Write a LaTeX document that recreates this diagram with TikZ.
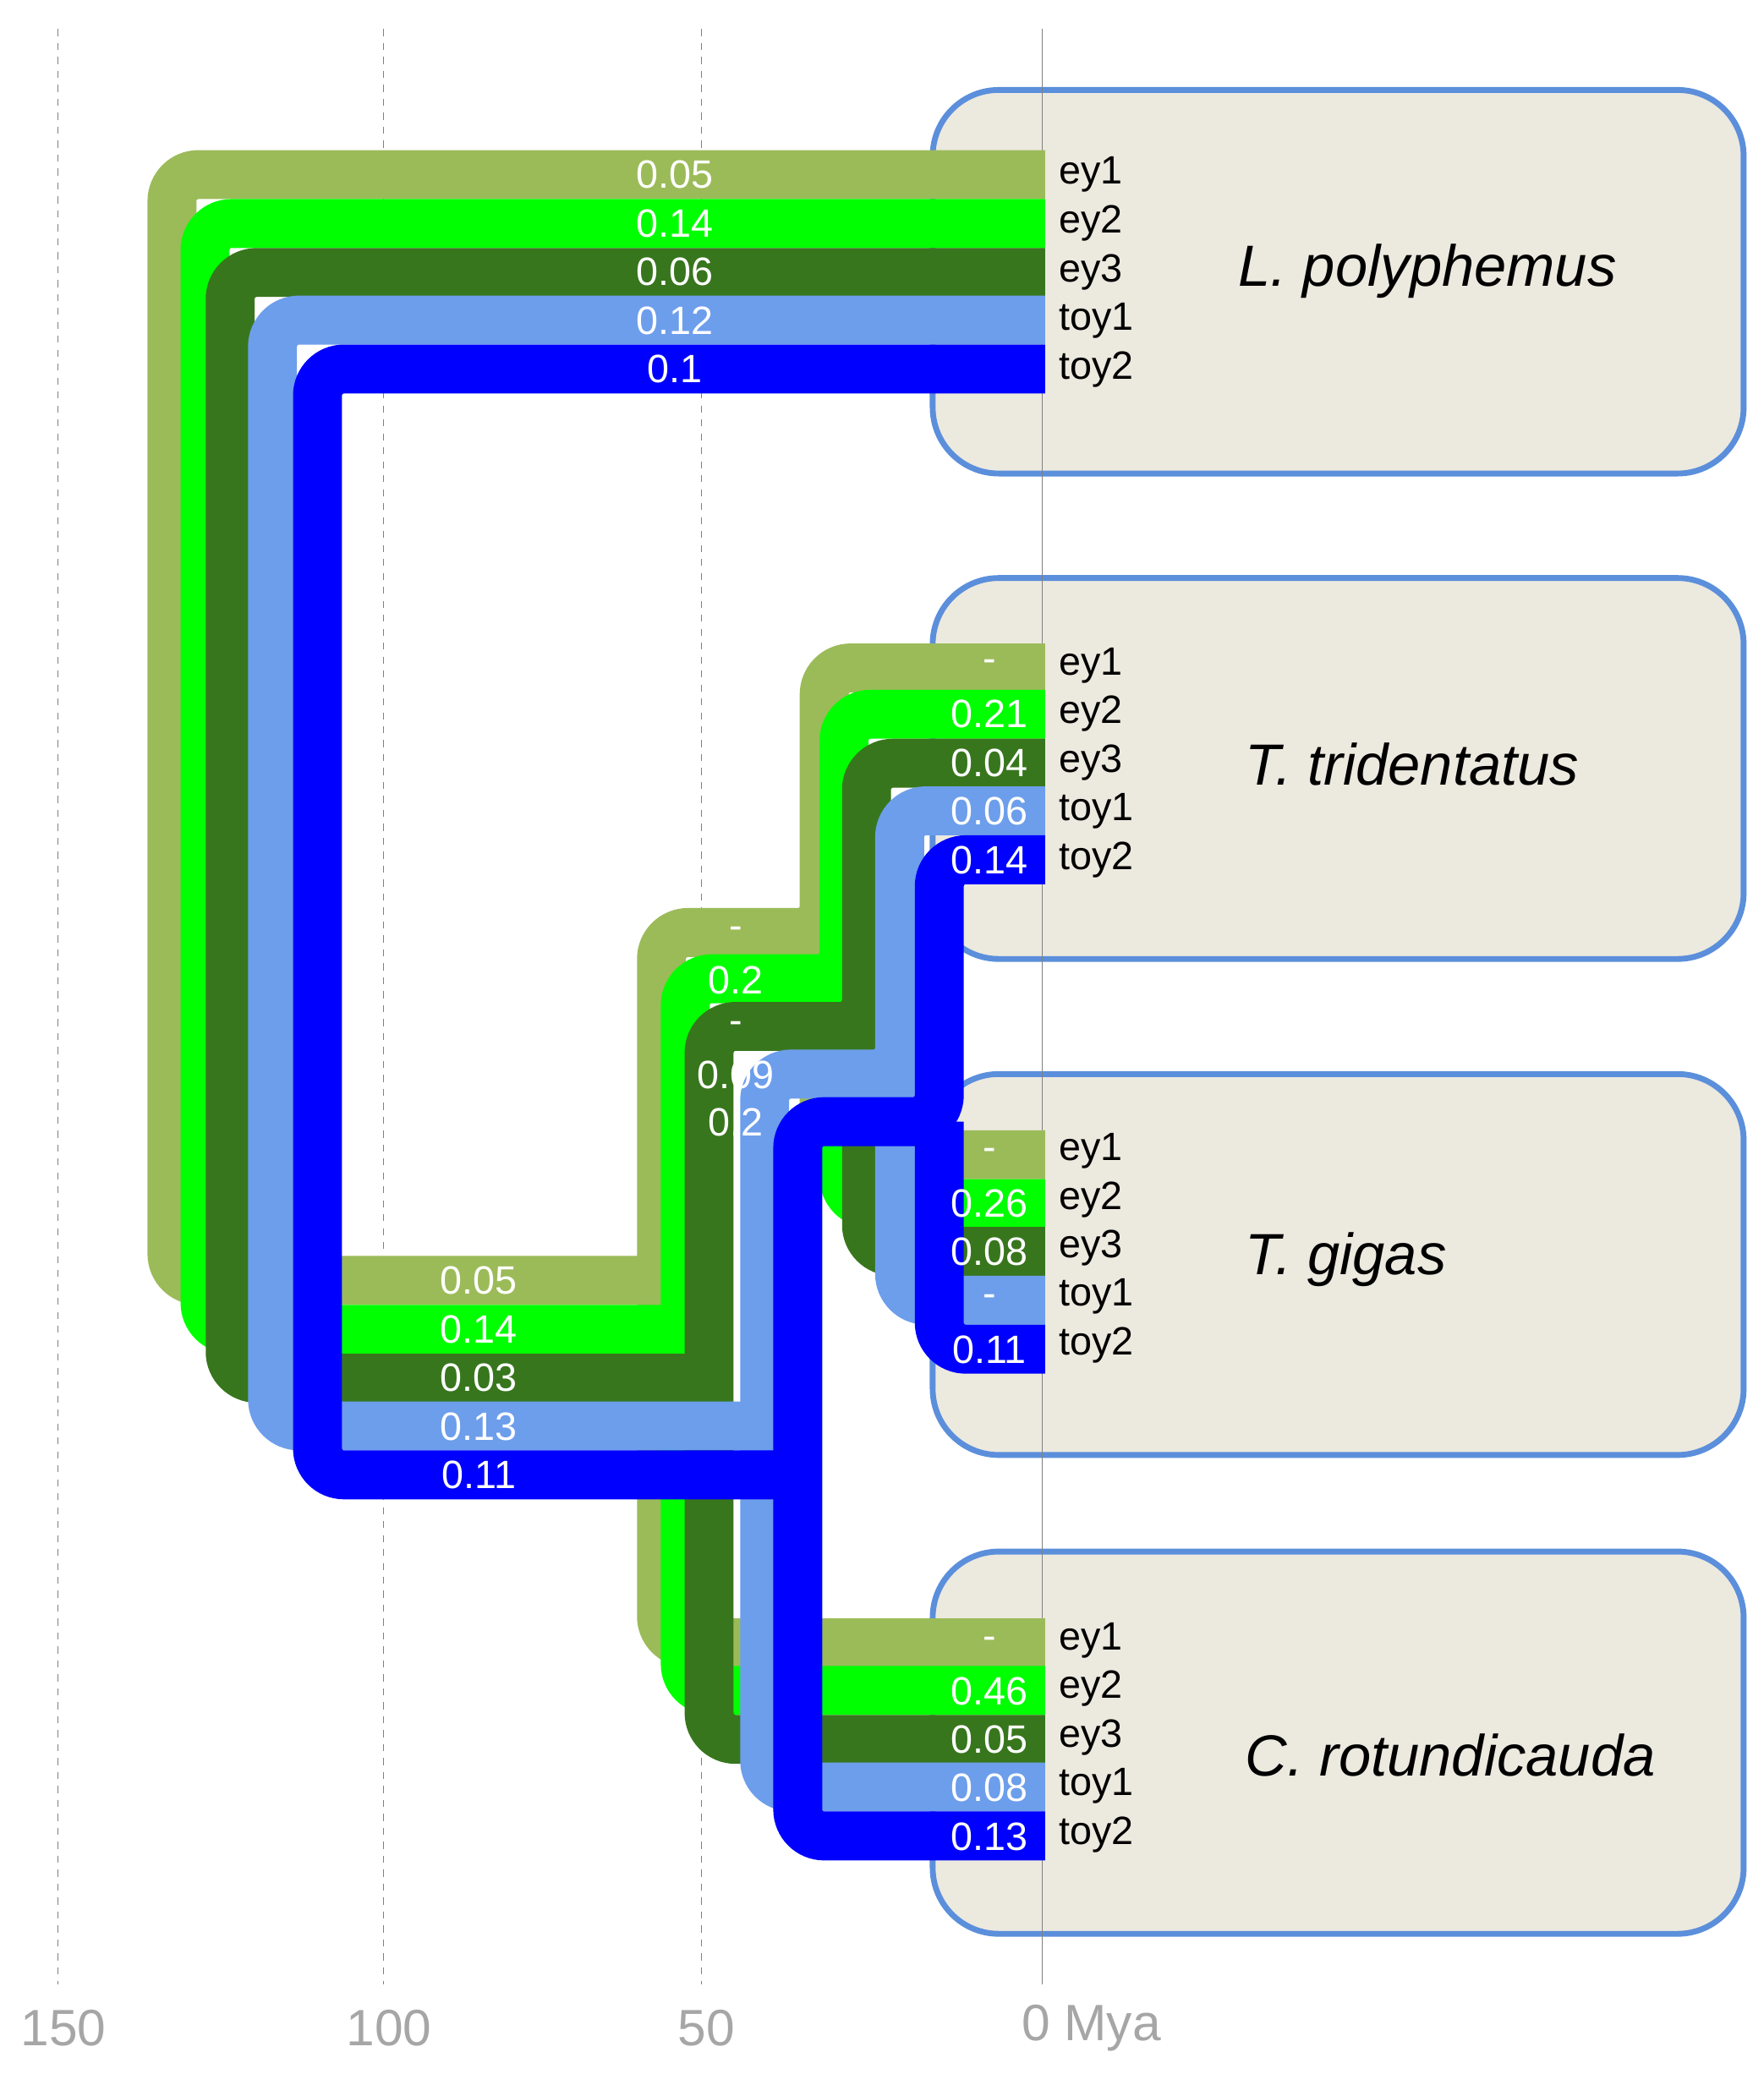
\documentclass[tikz,border=0pt]{standalone}
\usepackage{fontspec}
\setmainfont{Liberation Sans}
\usetikzlibrary{positioning}
\definecolor{cEyA}{HTML}{9BBB59}
\definecolor{cEyB}{HTML}{00FF00}
\definecolor{cEyC}{HTML}{38761D}
\definecolor{cToyA}{HTML}{6D9EEB}
\definecolor{cToyB}{HTML}{0000FF}
\definecolor{boxfill}{HTML}{ECE9DF}
\definecolor{boxline}{HTML}{5B8FDB}
\tikzset{
  species/.style={draw=boxline, line width=2.5pt, fill=boxfill, rounded corners=1cm},
  branch/.style={line width=0.74cm, rounded corners=0.4cm, line cap=butt},
  val/.style={text=white, font=\fontsize{17}{20}\selectfont, inner sep=0pt},
  gene/.style={anchor=west, font=\fontsize{17}{20}\selectfont, inner sep=0pt},
  sp/.style={anchor=west, font=\fontsize{25}{30}\selectfont\itshape},
  tick/.style={text=gray!70, font=\fontsize{22}{26}\selectfont}
}
\begin{document}
\begin{tikzpicture}[x=0.02cm, y=-0.02cm]
    \useasboundingbox (0,0) rectangle (1333,1568);
    % species boxes
    \draw[species] (705,68) rectangle (1318,358);
    \draw[species] (705,437) rectangle (1318,725);
    \draw[species] (705,812) rectangle (1318,1100);
    \draw[species] (705,1173) rectangle (1318,1462);
    \node[sp] (lpo) at (930,205) {L. polyphemus};
    \node[sp] (ttr) at (935,578) {T. tridentatus};
    \node[sp] (tgi) at (935,952) {T. gigas};
    \node[sp] (cro) at (935,1327) {C. rotundicauda};
    % time axis
    \foreach \x/\t in {44/150, 290/100, 530/50} {
        \draw[gray, dashed, thin] (\x,22) -- (\x,1500);
        \node[tick] (t\t) at (\x+4,1533) {\t};
    }
    \draw[gray, thin] (788,22) -- (788,1500);
    \node[tick, anchor=west] (t0) at (766,1533) {0 Mya};
    % gene trees
    \foreach \c/\yL/\xr/\yR/\xA/\yAt/\yC/\xB/\yT/\yG/\k in {
        cEyA/132/130/968/500/705/1242/623/505/873/0,
        cEyB/169/155/1005/518/740/1278/638/540/910/1,
        cEyC/206/174/1042/536/776/1315/655/577/946/2,
        cToyA/242/206/1078/578/812/1351/680/613/983/3,
        cToyB/279/240/1115/603/848/1388/710/650/1020/4} {
        \draw[branch, draw=\c] (790,\yL) -| (\xr,\yR) -- (\xA,\yR);
        \draw[branch, draw=\c] (790,\yT) -| (\xB,\yAt) -| (\xA,\yC) -- (790,\yC);
        \draw[branch, draw=\c] (\xB,\yAt) |- (790,\yG);
    }
    % branch values
    \foreach \v [count=\i from 0] in {0.05,0.14,0.06,0.12,0.1}
        \node[val] (vl\i) at (510,132+36.8*\i) {\v};
    \foreach \v [count=\i from 0] in {0.05,0.14,0.03,0.13,0.11}
        \node[val] (vr\i) at (362,968+36.8*\i) {\v};
    \foreach \v [count=\i from 0] in {-,0.2,-,0.09,0.2}
        \node[val] (va\i) at (556,705+35.8*\i) {\v};
    \foreach \v [count=\i from 0] in {-,0.21,0.04,0.06,0.14}
        \node[val] (vt\i) at (748,503+36.8*\i) {\v};
    \foreach \v [count=\i from 0] in {-,0.26,0.08,-,0.11}
        \node[val] (vg\i) at (748,873+36.8*\i) {\v};
    \foreach \v [count=\i from 0] in {-,0.46,0.05,0.08,0.13}
        \node[val] (vc\i) at (748,1242+36.6*\i) {\v};
    % gene names
    \foreach \y/\s in {132/lpo, 503/ttr, 870/tgi, 1240/cro}
        \foreach \g [count=\i from 0] in {ey1,ey2,ey3,toy1,toy2}
            \node[gene] (\s\g) at (800,\y+36.8*\i) {\g};
\end{tikzpicture}
\end{document}
